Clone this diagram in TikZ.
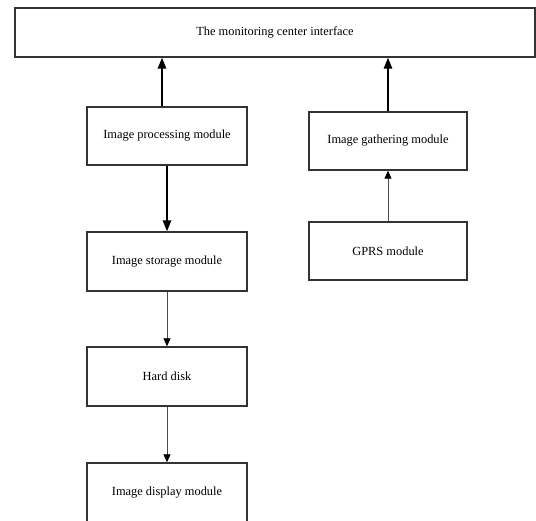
\documentclass[tikz,border=0pt]{standalone}
\usepackage{fontspec}
\setmainfont{Liberation Serif}
\usetikzlibrary{arrows.meta}
\begin{document}
\begin{tikzpicture}[x=1pt,y=-1pt,
  box/.style={draw=black!80, line width=1.4pt, rectangle, inner sep=0pt,
    font=\fontsize{12.4}{14}\selectfont, text=black},
  mod/.style={box, minimum width=160pt, minimum height=58pt},
  boldarrow/.style={line width=1.4pt, draw=black,
    -{Triangle[length=11pt,width=8.5pt]}},
  thinarrow/.style={line width=0.8pt, draw=black!70,
    -{Triangle[length=8pt,width=7pt,fill=black,color=black]}}]
  \useasboundingbox[fill=white] (0,0) rectangle (536,520);

  % top-level interface
  \node[box, minimum width=520pt, minimum height=49pt] (top) at (275,32.5)
    {The monitoring center interface};

  % left column
  \node[mod] (proc) at (167,136) {Image processing module};
  \node[mod, minimum height=59pt] (store) at (167,261.5) {Image storage module};
  \node[mod, minimum height=59pt] (disk) at (167,376.5) {Hard disk};
  \node[mod, minimum height=59pt] (disp) at (167,492.5) {Image display module};

  % right column
  \node[mod, minimum width=158pt] (gath) at (388,141) {Image gathering module};
  \node[mod, minimum width=158pt] (gprs) at (388,251) {GPRS module};

  % outlet of the processing module towards the interface
  \coordinate (procout) at ([xshift=-5pt]proc.north);

  % connectors
  \draw[boldarrow] (procout) -- (top.south -| procout);
  \draw[boldarrow] (gath.north) -- (top.south -| gath.north);
  \draw[boldarrow] (proc.south) -- (store.north);
  \draw[thinarrow] (store.south) -- (disk.north);
  \draw[thinarrow] (disk.south) -- (disp.north);
  \draw[thinarrow] (gprs.north) -- (gath.south);
\end{tikzpicture}
\end{document}
